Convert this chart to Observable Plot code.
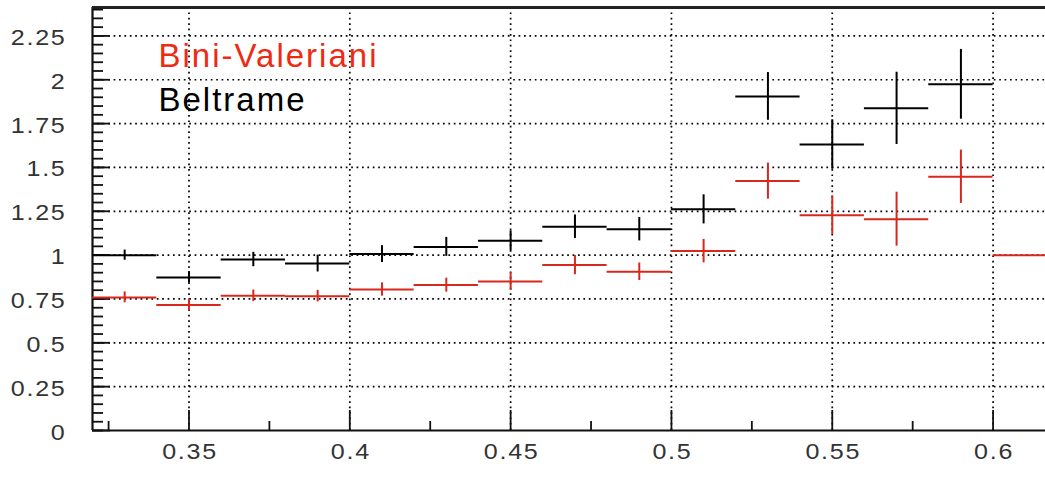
<!DOCTYPE html>
<html>
<head>
<meta charset="utf-8">
<script src="https://cdn.jsdelivr.net/npm/d3@7"></script>
<script src="https://cdn.jsdelivr.net/npm/@observablehq/plot@0.6"></script>
<style>
  html, body { margin: 0; padding: 0; background: #fff; }
  #chart svg { display: block; background: #fff; }
</style>
</head>
<body>
<div id="chart"></div>
<script>
// Histogram bins: centre of each bin and its full width
const binWidth = 0.02;
const binCenters = [0.33, 0.35, 0.37, 0.39, 0.41, 0.43, 0.45, 0.47, 0.49, 0.51, 0.53, 0.55, 0.57, 0.59, 0.61];

// Beltrame (black)
const beltrame    = [1.000, 0.873, 0.975, 0.952, 1.006, 1.047, 1.082, 1.162, 1.148, 1.261, 1.905, 1.631, 1.837, 1.974];
const beltrameErr = [0.029, 0.033, 0.041, 0.048, 0.048, 0.054, 0.057, 0.067, 0.067, 0.083, 0.136, 0.141, 0.206, 0.199];

// Bini-Valeriani (red)
const biniValeriani    = [0.759, 0.715, 0.768, 0.766, 0.804, 0.829, 0.850, 0.943, 0.905, 1.023, 1.422, 1.228, 1.205, 1.447, 1.000];
const biniValerianiErr = [0.031, 0.033, 0.033, 0.033, 0.038, 0.040, 0.050, 0.055, 0.050, 0.067, 0.103, 0.111, 0.154, 0.152, 0.000];

// Axes
const xDomain = [0.32, 0.6163];
const yDomain = [0, 2.412];
const xMajorTicks = [0.35, 0.4, 0.45, 0.5, 0.55, 0.6];
const xTickLabels = ["0.35", "0.4", "0.45", "0.5", "0.55", "0.6"];
const xMinorTicks = [0.325, 0.375, 0.425, 0.475, 0.525, 0.575];
const yMajorTicks = [0, 0.25, 0.5, 0.75, 1, 1.25, 1.5, 1.75, 2, 2.25];
const yTickLabels = ["0", "0.25", "0.5", "0.75", "1", "1.25", "1.5", "1.75", "2", "2.25"];
const yMinorTicks = d3.range(0, 49).map(i => +(i * 0.05).toFixed(2));

const seriesNames = ["Bini-Valeriani", "Beltrame"];
const red = "#d8281c";
const redText = "#ee2a12";
const font = "'Liberation Sans', Arial, Helvetica, sans-serif";

const width = 1045, height = 502;
const margin = {top: 7, right: 0, bottom: 72, left: 92};
const plotW = width - margin.left - margin.right;
const plotH = height - margin.top - margin.bottom;

function rows(values, errors) {
  return values.map((v, i) => ({
    c: binCenters[i],
    lo: binCenters[i] - binWidth / 2,
    hi: binCenters[i] + binWidth / 2,
    v,
    vLo: v - errors[i],
    vHi: v + errors[i]
  }));
}
const beltrameRows = rows(beltrame, beltrameErr);
const biniRows = rows(biniValeriani, biniValerianiErr);

function errorCrosses(data, stroke) {
  return [
    Plot.ruleY(data, {y: "v", x1: "lo", x2: "hi", stroke, strokeWidth: 2, clip: true}),
    Plot.ruleX(data.filter(d => d.vHi > d.vLo), {x: "c", y1: "vLo", y2: "vHi", stroke, strokeWidth: 2, clip: true})
  ];
}

const yLabel = new Map(yMajorTicks.map((t, i) => [t, yTickLabels[i]]));
const xLabel = new Map(xMajorTicks.map((t, i) => [t, xTickLabels[i]]));
const dots = {stroke: "#000", strokeWidth: 1.7, strokeDasharray: "1.7,3.7"};

const chart = Plot.plot({
  width, height,
  marginTop: margin.top, marginRight: margin.right,
  marginBottom: margin.bottom, marginLeft: margin.left,
  style: {fontFamily: font, background: "#fff"},
  x: {domain: xDomain, axis: null},
  y: {domain: yDomain, axis: null},
  marks: [
    // dotted grid at the major ticks
    Plot.ruleY(yMajorTicks.filter(t => t > 0), dots),
    Plot.ruleX(xMajorTicks, dots),

    // frame lines (left, bottom, top)
    Plot.ruleX([xDomain[0]], {stroke: "#111", strokeWidth: 2.2}),
    Plot.ruleY([0], {stroke: "#111", strokeWidth: 2.2}),
    Plot.ruleY([yDomain[1]], {stroke: "#222", strokeWidth: 3}),

    // inward tick marks
    Plot.ruleY(yMinorTicks, {stroke: "#111", strokeWidth: 1.8, insetRight: plotW - 11}),
    Plot.ruleY(yMajorTicks, {stroke: "#111", strokeWidth: 1.8, insetRight: plotW - 18}),
    Plot.ruleX(xMinorTicks, {stroke: "#111", strokeWidth: 1.8, insetTop: plotH - 9}),
    Plot.ruleX(xMajorTicks, {stroke: "#111", strokeWidth: 1.8, insetTop: plotH - 20}),

    // tick labels
    Plot.axisY(yMajorTicks, {tickSize: 0, tickPadding: 26, dy: 2, fontSize: 22, fill: "#333",
      tickFormat: d => yLabel.get(d)}),
    Plot.axisX(xMajorTicks, {tickSize: 0, tickPadding: 13, dx: 1, fontSize: 22, fill: "#333",
      tickFormat: d => xLabel.get(d)}),

    // histograms with error crosses
    ...errorCrosses(biniRows, red),
    ...errorCrosses(beltrameRows, "#000"),

    // series labels
    Plot.text([seriesNames[0]], {text: d => d, frameAnchor: "top-left", textAnchor: "start",
      lineAnchor: "bottom", dx: 66, dy: 59.7, fontSize: 33, fill: redText}),
    Plot.text([seriesNames[1]], {text: d => d, frameAnchor: "top-left", textAnchor: "start",
      lineAnchor: "bottom", dx: 66, dy: 103, fontSize: 33, fill: "#000"})
  ]
});

// spacing and width of the label glyphs
d3.select(chart).selectAll('g[aria-label="text"] text').style("letter-spacing", "2px");
d3.select(chart).selectAll('g[aria-label$="tick label"] text')
  .style("letter-spacing", "1.5px")
  .attr("transform", function() { return (this.getAttribute("transform") || "") + " scale(1.14,1)"; });

document.getElementById("chart").appendChild(chart);
</script>
</body>
</html>
